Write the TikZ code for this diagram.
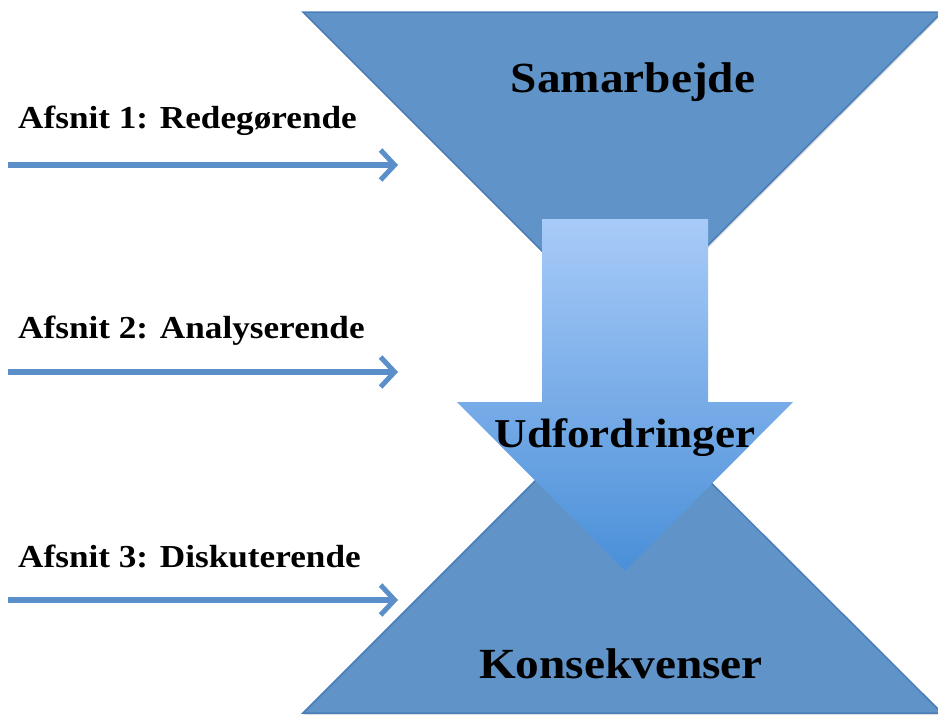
\documentclass[tikz,border=0pt]{standalone}
\usepackage{fontspec}
\setmainfont{Liberation Serif}[FakeStretch=1.1]
\usetikzlibrary{arrows.meta,shadows}

\definecolor{tragt}{HTML}{6094C8}
\definecolor{kant}{HTML}{4A7DB8}
\definecolor{pillys}{HTML}{A8CBF8}
\definecolor{pilmork}{HTML}{4A8FD8}
\definecolor{streg}{HTML}{5B8FC9}

\tikzset{
  tragtform/.style={fill=tragt, draw=kant, line width=1.5pt,
    drop shadow={opacity=0.25, shadow xshift=1pt, shadow yshift=-2pt}},
  overskrift/.style={font=\bfseries\fontsize{43}{43}\selectfont, anchor=base, inner sep=0pt},
  afsnit/.style={font=\bfseries\fontsize{32}{32}\selectfont, anchor=base west, inner sep=0pt},
  pilstreg/.style={draw=streg, line width=5.5pt,
    -{Straight Barb[length=14pt,width=30pt,line width=5pt]}}
}

\begin{document}
\begin{tikzpicture}[x=1pt,y=-1pt]
      \useasboundingbox (0,0) rectangle (938,718);
      %this draws the two triangles
      \draw[tragtform] (303,12) -- (942,12) -- (622,331) -- cycle;
      \draw[tragtform] (303,713) -- (942,713) -- (622,394) -- cycle;
      %this draws the big arrow
      \shade[top color=pillys, bottom color=pilmork]
        (542,219) -- (708,219) -- (708,402) -- (793,402) -- (625,571)
        -- (457,402) -- (542,402) -- cycle;
      %this draws the titles
      \node[overskrift] (samarbejde) at (633,92) {Samarbejde};
      \node[overskrift, font=\bfseries\fontsize{41}{41}\selectfont] (udfordringer) at (625,447) {Udfordringer};
      \node[overskrift] (konsekvenser) at (621,678) {Konsekvenser};
      %this draws the sections and their arrows
      \foreach \n/\tekst/\ty/\py in {1/Redegørende/128/165, 2/Analyserende/338/372, 3/Diskuterende/567/600}
      {
        \node[afsnit] (afsnit\n) at (18,\ty) {Afsnit \n: \tekst};
        \coordinate (fra\n) at (8,\py);
        \coordinate (til\n) at (398,\py);
        \draw[pilstreg] (fra\n) -- (til\n);
      }
    \end{tikzpicture}
\end{document}
